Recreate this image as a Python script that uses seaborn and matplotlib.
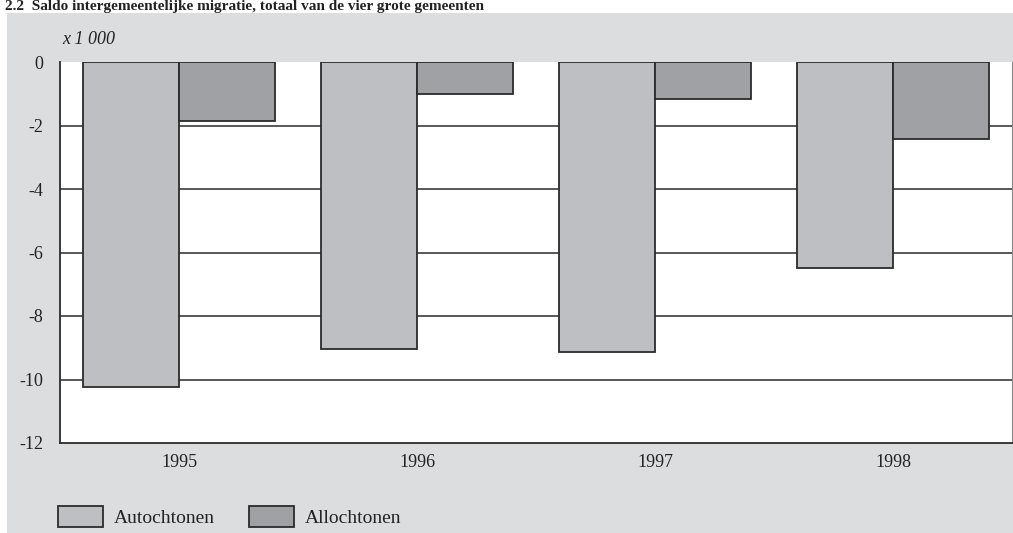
import matplotlib
matplotlib.use('Agg')
import matplotlib.pyplot as plt
from matplotlib.patches import Rectangle
import seaborn as sns
import pandas as pd

# data (x 1 000)
years = ['1995', '1996', '1997', '1998']
autochtonen = [-10.24, -9.04, -9.13, -6.49]
allochtonen = [-1.86, -1.01, -1.18, -2.43]
groups = ['Autochtonen', 'Allochtonen']
colors = ['#bebfc3', '#a0a1a5']

df = pd.DataFrame({
    'jaar': years * 2,
    'saldo': autochtonen + allochtonen,
    'groep': [groups[0]] * 4 + [groups[1]] * 4,
})

sns.set_style('white')
plt.rcParams['font.family'] = ['Liberation Serif', 'DejaVu Serif']

fig = plt.figure(figsize=(10.13, 5.33), dpi=100)
fig.patch.set_facecolor('white')
W, H = 1013, 533

# grey panel behind the chart
fig.add_artist(Rectangle((7 / W, 0), 1 - 7 / W, (H - 13) / H, transform=fig.transFigure,
                         facecolor='#dcdddf', edgecolor='none', zorder=-5))

ax = fig.add_axes([60 / W, (H - 443) / H, 952 / W, (443 - 62) / H])
ax.set_zorder(2)
ax.set_facecolor('white')

sns.barplot(data=df, x='jaar', y='saldo', hue='groep', order=years, hue_order=groups,
            palette=colors, width=0.807, gap=0, edgecolor='#2b2b2b', linewidth=1.3,
            saturation=1, ax=ax, zorder=3)

ax.set_ylim(-12, 0)
ax.set_xlim(-0.5, 3.5)
ax.set_yticks([0, -2, -4, -6, -8, -10, -12])
ax.set_yticklabels(['0', '-2', '-4', '-6', '-8', '-10', '-12'])
for v in [-2, -4, -6, -8, -10]:
    ax.axhline(v, color='#2b2b2b', linewidth=1.1, zorder=1)
ax.tick_params(axis='both', length=0, labelsize=13, colors='#222222')
ax.tick_params(axis='y', pad=12)
ax.tick_params(axis='x', pad=8)
ax.set_xlabel('')
ax.set_ylabel('')

ax.spines['top'].set_visible(False)
ax.spines['left'].set_color('#2b2b2b')
ax.spines['left'].set_linewidth(1.3)
ax.spines['bottom'].set_color('#2b2b2b')
ax.spines['bottom'].set_linewidth(1.3)
ax.spines['right'].set_color('#888888')
ax.spines['right'].set_linewidth(0.8)

fig.text(62 / W, 1 - 40 / H, 'x 1 000', fontsize=13, style='italic', va='center', ha='left',
         color='#222222')
fig.text(5 / W, 1 - 10 / H, '2.2  Saldo intergemeentelijke migratie, totaal van de vier grote gemeenten',
         fontsize=11, fontweight='bold', va='baseline', ha='left', color='#222222')

leg = ax.legend(loc='lower left', bbox_to_anchor=(58 / W, 6 / H), bbox_transform=fig.transFigure,
                ncol=2, frameon=False, fontsize=14, handlelength=2.3, handleheight=1.25,
                columnspacing=1.8, handletextpad=0.55, borderpad=0, borderaxespad=0)
for t in leg.get_texts():
    t.set_color('#222222')

fig.savefig('out.png', dpi=100, facecolor=fig.get_facecolor())
